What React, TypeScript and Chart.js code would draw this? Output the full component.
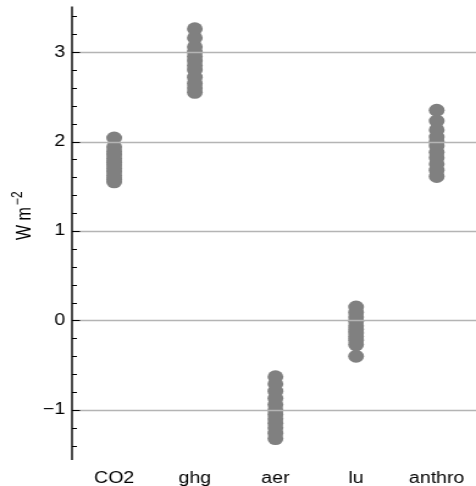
import React, { useEffect, useRef } from 'react';
import { Chart, registerables } from 'chart.js';
Chart.register(...registerables);

const categories = ['CO2', 'ghg', 'aer', 'lu', 'anthro'];
const co2Values = [2.04, 1.94, 1.89, 1.85, 1.81, 1.77, 1.74, 1.7, 1.66, 1.62, 1.58, 1.55];
const ghgValues = [3.26, 3.16, 3.06, 3.0, 2.95, 2.9, 2.85, 2.8, 2.72, 2.65, 2.6, 2.55];
const aerValues = [-0.63, -0.71, -0.79, -0.87, -0.94, -1.0, -1.05, -1.1, -1.15, -1.2, -1.26, -1.32];
const luValues = [0.15, 0.09, 0.04, -0.01, -0.06, -0.1, -0.14, -0.18, -0.22, -0.27, -0.4];
const anthroValues = [2.35, 2.23, 2.13, 2.05, 2.0, 1.95, 1.88, 1.82, 1.75, 1.68, 1.61];
const yTicks = [-1, 0, 1, 2, 3];
const yMinorStep = 0.2;
const yMin = -1.56;
const yMax = 3.51;

const series = [co2Values, ghgValues, aerValues, luValues, anthroValues];
const FONT = 'Liberation Sans, Arial, Helvetica, sans-serif';
const CW = 390; // canvas width, stretched to 476 on screen
const SX = 476 / CW;

const overlay = {
  id: 'overlay',
  afterDatasetsDraw(chart: any) {
    const { ctx, chartArea } = chart;
    const ys = chart.scales.y;
    const left = chartArea.left;
    ctx.save();
    ctx.strokeStyle = '#b4b4b4';
    ctx.lineWidth = 1.5;
    yTicks.forEach((v) => {
      const y = Math.round(ys.getPixelForValue(v)) + 0.5;
      ctx.beginPath();
      ctx.moveTo(left, y);
      ctx.lineTo(chart.width, y);
      ctx.stroke();
    });
    ctx.strokeStyle = '#000';
    ctx.lineWidth = 1.4;
    ctx.beginPath();
    ctx.moveTo(left, chartArea.top);
    ctx.lineTo(left, chartArea.bottom);
    ctx.stroke();
    ctx.lineWidth = 1;
    const start = Math.ceil(yMin / yMinorStep);
    const end = Math.floor(yMax / yMinorStep);
    for (let k = start; k <= end; k++) {
      const v = k * yMinorStep;
      const major = Math.abs(v - Math.round(v)) < 1e-6;
      const y = Math.round(ys.getPixelForValue(v)) + 0.5;
      ctx.beginPath();
      ctx.moveTo(left, y);
      ctx.lineTo(left + (major ? 6.5 : 4), y);
      ctx.stroke();
    }
    ctx.fillStyle = '#000';
    ctx.translate(24.5, 240);
    ctx.rotate(-Math.PI / 2);
    ctx.textBaseline = 'alphabetic';
    ctx.textAlign = 'left';
    ctx.font = `16px ${FONT}`;
    const main = 'W m';
    ctx.fillText(main, 0, 0);
    const w = ctx.measureText(main).width;
    ctx.font = `12px ${FONT}`;
    ctx.fillText('\u22122', w + 2, -7);
    ctx.restore();
  },
};

export default function App() {
  const ref = useRef<HTMLCanvasElement>(null);
  useEffect(() => {
    const data: { x: number; y: number }[] = [];
    series.forEach((vals, i) => vals.forEach((v) => data.push({ x: i, y: v })));
    const chart = new Chart(ref.current as HTMLCanvasElement, {
      type: 'scatter',
      data: {
        datasets: [
          {
            data,
            pointRadius: 6.5,
            pointHoverRadius: 6.5,
            backgroundColor: '#808080',
            borderWidth: 0,
          },
        ],
      },
      options: {
        animation: false,
        responsive: false,
        maintainAspectRatio: false,
        layout: { padding: { top: 5, right: 0, left: 0, bottom: 0 } },
        plugins: { legend: { display: false }, tooltip: { enabled: false } },
        scales: {
          x: {
            type: 'linear',
            min: -0.5228,
            max: 4.389,
            grid: { display: false, drawTicks: false },
            border: { display: false },
            afterBuildTicks: (s: any) => {
              s.ticks = categories.map((_, i) => ({ value: i }));
            },
            ticks: {
              callback: (v: any) => categories[v as number],
              font: { family: FONT, size: 16 },
              color: '#000',
              padding: 9,
              autoSkip: false,
              maxRotation: 0,
            },
            afterFit: (s: any) => {
              s.height = 26;
              s.paddingLeft = 0;
              s.paddingRight = 0;
            },
          },
          y: {
            min: yMin,
            max: yMax,
            grid: { display: false, drawTicks: false },
            border: { display: false },
            afterBuildTicks: (s: any) => {
              s.ticks = yTicks.map((v) => ({ value: v }));
            },
            ticks: {
              callback: (v: any) => ((v as number) < 0 ? '\u2212' + Math.abs(v as number) : String(v)),
              font: { family: FONT, size: 16 },
              color: '#000',
              padding: 5.7,
            },
            afterFit: (s: any) => {
              s.width = 59;
              s.paddingTop = 0;
              s.paddingBottom = 0;
            },
          },
        },
      },
      plugins: [overlay],
    });
    return () => chart.destroy();
  }, []);
  return (
    <div style={{ position: 'fixed', left: 0, top: 0, width: 476, height: 486, overflow: 'hidden' }}>
      <canvas
        ref={ref}
        width={CW}
        height={486}
        style={{
          display: 'block',
          width: CW + 'px',
          height: '486px',
          transform: `scaleX(${SX})`,
          transformOrigin: '0 0',
        }}
      />
    </div>
  );
}
